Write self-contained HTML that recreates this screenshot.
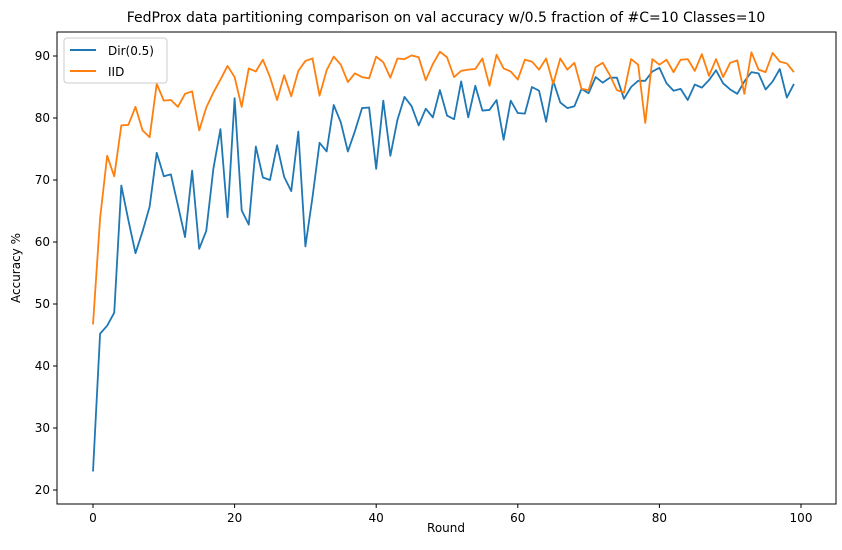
<!DOCTYPE html>
<html><head><meta charset="utf-8"><style>
body{margin:0;background:#fff;font-family:"Liberation Sans","DejaVu Sans",sans-serif}
svg text{font-family:"DejaVu Sans","Liberation Sans",sans-serif;font-size:12px;fill:#000}
</style></head><body>
<svg id="chart" width="842" height="545">
<rect width="842" height="545" fill="#fff"/>
<text x="446" y="22" text-anchor="middle" style="font-size:14px">FedProx data partitioning comparison on val accuracy w/0.5 fraction of #C=10 Classes=10</text>
<g id="grid"></g>
<g id="series"></g>
<rect x="57" y="32" width="779" height="472" fill="none" stroke="#000" stroke-width="1"/>
<text x="446" y="532" text-anchor="middle">Round</text>
<text transform="translate(20,268) rotate(-90)" text-anchor="middle">Accuracy %</text>
<g>
<rect x="64" y="38" width="103" height="45" rx="3" fill="#fff" stroke="#ccc"/>
<line x1="70" y1="50" x2="96" y2="50" stroke="#1f77b4" stroke-width="2"/>
<text x="108" y="55">Dir(0.5)</text>
<line x1="70" y1="71" x2="96" y2="71" stroke="#ff7f0e" stroke-width="2"/>
<text x="108" y="76">IID</text>
</g>
</svg>
<script>
const xTicks=[0,20,40,60,80,100];
const yTicks=[20,30,40,50,60,70,80,90];
const dirValues=[23,45.2,46.5,48.6,69.1,63.5,58.2,61.7,65.7,74.4,70.6,70.9,65.9,60.8,71.5,58.9,61.8,71.8,78.2,64,83.2,65.1,62.8,75.4,70.4,70,75.6,70.5,68.2,77.8,59.3,67.2,76,74.6,82.1,79.3,74.6,77.9,81.6,81.7,71.8,82.8,73.9,79.7,83.4,81.9,78.8,81.5,80.1,84.5,80.4,79.8,85.9,80.1,85.2,81.2,81.3,82.9,76.5,82.8,80.8,80.7,85,84.4,79.4,86,82.5,81.6,81.9,84.7,84,86.6,85.7,86.5,86.5,83.1,85,86,86,87.5,88.1,85.6,84.4,84.7,82.9,85.4,84.9,86.1,87.7,85.6,84.6,83.9,85.9,87.4,87.2,84.6,85.9,87.9,83.3,85.5];
const iidValues=[46.7,63.8,73.9,70.6,78.8,78.9,81.8,78,76.9,85.5,82.8,82.9,81.8,83.9,84.3,78,81.7,84.1,86.2,88.4,86.6,81.8,88,87.5,89.4,86.6,82.9,86.9,83.5,87.6,89.2,89.6,83.6,87.7,89.9,88.6,85.8,87.2,86.6,86.4,89.9,89,86.5,89.6,89.5,90.1,89.8,86.1,88.7,90.7,89.8,86.6,87.6,87.8,87.9,89.6,85.2,90.2,88,87.5,86.2,89.4,89.1,87.8,89.6,85.5,89.6,87.8,88.9,84.7,84.5,88.2,88.9,86.9,84.5,84.1,89.5,88.6,79.2,89.5,88.6,89.4,87.4,89.4,89.5,87.6,90.3,86.8,89.5,86.6,88.9,89.3,83.9,90.6,87.8,87.4,90.5,89.1,88.8,87.4];
const NS='http://www.w3.org/2000/svg';
function xs(v){return 93+v*(801-93)/100;}
function ys(v){return 490-(v-20)*(490-56)/70;}
const g=document.getElementById('grid');
xTicks.forEach(t=>{
  const l=document.createElementNS(NS,'line');
  l.setAttribute('x1',xs(t));l.setAttribute('x2',xs(t));l.setAttribute('y1',504);l.setAttribute('y2',508);l.setAttribute('stroke','#000');
  
  
  g.appendChild(l);
  const tx=document.createElementNS(NS,'text');
  tx.setAttribute('x',xs(t));tx.setAttribute('y',522);tx.setAttribute('text-anchor','middle');tx.textContent=t;
  
  
  g.appendChild(tx);
});
yTicks.forEach(t=>{
  const l=document.createElementNS(NS,'line');
  l.setAttribute('x1',53);l.setAttribute('x2',57);l.setAttribute('y1',ys(t));l.setAttribute('y2',ys(t));l.setAttribute('stroke','#000');
  
  
  g.appendChild(l);
  const tx=document.createElementNS(NS,'text');
  tx.setAttribute('x',50);tx.setAttribute('y',ys(t)+4);tx.setAttribute('text-anchor','end');tx.textContent=t;
  
  
  g.appendChild(tx);
});
const s=document.getElementById('series');
function line(vals,color,name){
  const p=document.createElementNS(NS,'polyline');
  p.setAttribute('points',vals.map((v,i)=>xs(i)+','+ys(v)).join(' '));
  p.setAttribute('fill','none');p.setAttribute('stroke',color);p.setAttribute('stroke-width','1.8');p.setAttribute('stroke-linejoin','round');
  
  
  s.appendChild(p);
}
line(dirValues,'#1f77b4','dir-line');
line(iidValues,'#ff7f0e','iid-line');
</script>
</body></html>
